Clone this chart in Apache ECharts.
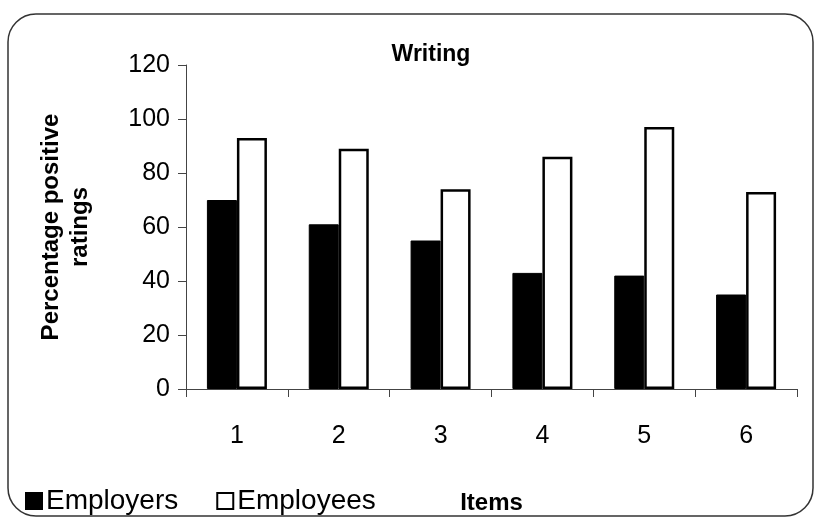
<!DOCTYPE html>
<html>
<head>
<meta charset="utf-8">
<script src="https://cdn.jsdelivr.net/npm/echarts@6/dist/echarts.min.js"></script>
<style>
  html, body { margin: 0; padding: 0; background: #fff; }
  #chart { width: 815px; height: 520px; }
</style>
</head>
<body>
<div id="chart"></div>
<script>
// Share of positive ratings per writing item
const items = ['1', '2', '3', '4', '5', '6'];
const employers = [70, 61, 55, 43, 42, 35];
const employees = [93, 89, 74, 86, 97, 73];
const yTicks = { min: 0, max: 120, interval: 20 };

const FONT = '"Liberation Sans", Arial, sans-serif';

const chart = echarts.init(document.getElementById('chart'), null, { renderer: 'canvas' });

chart.setOption({
  animation: false,
  backgroundColor: '#ffffff',
  graphic: [{
    type: 'rect',
    shape: { x: 8, y: 14, width: 805, height: 502, r: 28 },
    style: { fill: 'none', stroke: '#333', lineWidth: 1.5 },
    silent: true,
    z: -1
  }],
  title: {
    text: 'Writing',
    left: 426,
    top: 38,
    textAlign: 'center',
    textStyle: { fontFamily: FONT, fontSize: 23, fontWeight: 'bold', color: '#000' }
  },
  legend: {
    left: 20,
    top: 482,
    itemWidth: 16,
    itemHeight: 16,
    itemGap: 38,
    icon: 'rect',
    textStyle: { fontFamily: FONT, fontSize: 28, color: '#000', padding: [0, 0, 0, -1] },
    data: ['Employers', 'Employees']
  },
  grid: { left: 186, right: 18, top: 65, bottom: 127, containLabel: false },
  xAxis: {
    type: 'category',
    data: items,
    name: 'Items',
    nameLocation: 'middle',
    nameGap: 102,
    nameTextStyle: { fontFamily: FONT, fontSize: 24, fontWeight: 'bold', color: '#000' },
    axisLine: { lineStyle: { color: '#444', width: 1 } },
    axisTick: { show: true, length: 8, alignWithLabel: false, lineStyle: { color: '#444' } },
    axisLabel: { fontFamily: FONT, fontSize: 25, color: '#000', margin: 35 }
  },
  yAxis: {
    type: 'value',
    min: yTicks.min,
    max: yTicks.max,
    interval: yTicks.interval,
    name: 'Percentage positive\nratings',
    nameLocation: 'middle',
    nameRotate: 90,
    nameGap: 91,
    nameTextStyle: { fontFamily: FONT, fontSize: 24, fontWeight: 'bold', color: '#000', lineHeight: 29 },
    axisLine: { show: true, lineStyle: { color: '#444', width: 1 } },
    axisTick: { show: true, length: 8, inside: false, lineStyle: { color: '#444' } },
    splitLine: { show: false },
    axisLabel: { fontFamily: FONT, fontSize: 25, color: '#000', margin: 16 }
  },
  series: [
    {
      name: 'Employers',
      type: 'bar',
      data: employers,
      barWidth: 30,
      barGap: '0%',
      itemStyle: { color: '#000', borderColor: '#000', borderWidth: 1 }
    },
    {
      name: 'Employees',
      type: 'bar',
      data: employees,
      barWidth: 30,
      barGap: '0%',
      itemStyle: { color: '#fff', borderColor: '#000', borderWidth: 2.5 }
    }
  ]
});
</script>
</body>
</html>
